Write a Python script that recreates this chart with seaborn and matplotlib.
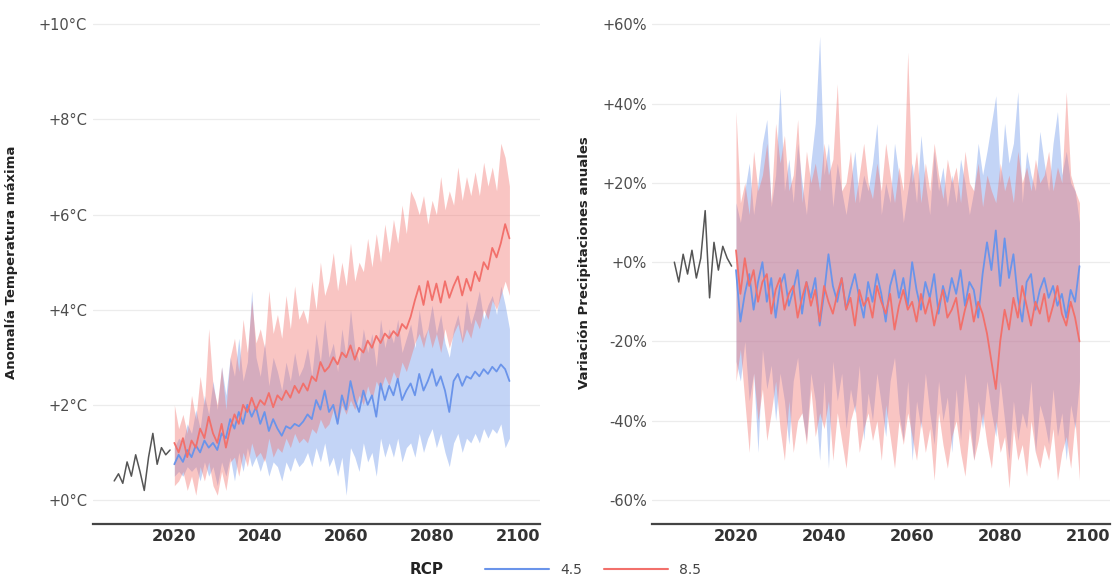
import numpy as np
import pandas as pd
import matplotlib
matplotlib.use("Agg")
import matplotlib.pyplot as plt
import seaborn as sns
from matplotlib.lines import Line2D

# historical observations 2006-2019
hist_years = list(range(2006, 2020))
hist_temp = [0.4, 0.55, 0.35, 0.8, 0.5, 0.95, 0.6, 0.2, 0.9, 1.4, 0.75, 1.1, 0.95, 1.05]
hist_prec = [0, -5, 2, -3, 3, -4, 1, 13, -9, 5, -2, 4, 1, -1]

# projections 2020-2098
years = list(range(2020, 2099))

temp45_mean = [0.75, 0.95, 0.8, 1.05, 0.9, 1.15, 1.0, 1.25, 1.1, 1.2,
               1.05, 1.4, 1.3, 1.7, 1.5, 1.85, 1.6, 2.0, 1.75, 1.95,
               1.6, 1.85, 1.45, 1.7, 1.5, 1.35, 1.55, 1.5, 1.6, 1.55,
               1.65, 1.8, 1.7, 2.1, 1.9, 2.3, 1.85, 2.0, 1.6, 2.2,
               1.9, 2.5, 2.1, 1.85, 2.3, 2.0, 2.2, 1.75, 2.45, 2.1,
               2.4, 2.2, 2.55, 2.1, 2.3, 2.45, 2.2, 2.65, 2.3, 2.5,
               2.75, 2.4, 2.6, 2.3, 1.85, 2.5, 2.65, 2.4, 2.6, 2.55,
               2.7, 2.6, 2.75, 2.65, 2.8, 2.7, 2.85, 2.75, 2.5]
temp45_lo = [0.5, 0.6, 0.5, 0.7, 0.6, 0.7, 0.4, 0.8, 0.5, 0.7,
             0.3, 0.8, 0.5, 0.9, 0.4, 1.0, 0.6, 1.1, 0.7, 0.9,
             0.6, 0.9, 0.5, 0.8, 0.7, 0.4, 0.8, 0.6, 0.9, 0.7,
             0.8, 1.0, 0.7, 1.1, 0.8, 1.2, 0.7, 0.9, 0.5, 0.9,
             0.1, 1.1, 0.9, 0.6, 1.2, 0.8, 1.0, 0.5, 1.3, 0.9,
             1.2, 0.9, 1.3, 0.8, 1.1, 1.2, 0.9, 1.4, 1.0, 1.3,
             1.5, 1.1, 1.4, 1.0, 0.7, 1.2, 1.4, 1.0, 1.3, 1.2,
             1.4, 1.2, 1.5, 1.3, 1.5, 1.4, 1.6, 1.1, 1.3]
temp45_hi = [1.1, 1.3, 1.2, 1.6, 1.4, 1.9, 1.5, 2.2, 1.8, 2.5,
             1.9, 2.8, 2.2, 3.0, 2.6, 3.4, 2.5, 2.9, 4.4, 3.0,
             2.6, 3.3, 2.4, 3.0, 2.7, 2.3, 2.9, 2.5, 3.1, 2.6,
             2.8, 3.2, 2.6, 3.5, 2.9, 3.8, 3.0, 3.3, 2.7, 3.6,
             3.0, 4.0, 3.2, 2.9, 3.6, 3.1, 3.5, 2.8, 3.8, 3.2,
             3.6, 3.3, 3.8, 3.1, 3.4, 3.7, 3.2, 4.0, 3.4, 3.6,
             4.1, 3.5, 3.9, 3.3, 3.0, 3.6, 3.9, 3.4, 4.2, 3.7,
             4.0, 4.4, 3.8, 4.1, 4.3, 3.9, 4.5, 4.1, 3.6]

temp85_mean = [1.2, 1.0, 1.3, 0.9, 1.25, 1.1, 1.5, 1.3, 1.75, 1.4,
               1.2, 1.6, 1.1, 1.5, 1.8, 1.6, 2.0, 1.85, 2.15, 1.9,
               2.1, 2.0, 2.25, 1.95, 2.2, 2.1, 2.3, 2.15, 2.4, 2.25,
               2.45, 2.3, 2.6, 2.5, 2.9, 2.7, 2.8, 3.0, 2.85, 3.1,
               3.0, 3.25, 2.95, 3.2, 3.1, 3.35, 3.2, 3.45, 3.3, 3.5,
               3.4, 3.55, 3.45, 3.7, 3.6, 3.85, 4.2, 4.5, 4.1, 4.6,
               4.2, 4.55, 4.15, 4.6, 4.25, 4.5, 4.7, 4.3, 4.65, 4.4,
               4.8, 4.6, 5.0, 4.85, 5.3, 5.1, 5.4, 5.8, 5.5]
temp85_lo = [0.3, 0.4, 0.6, 0.2, 0.5, 0.1, 0.7, 0.4, 0.8, 0.3,
             0.1, 0.6, 0.2, 0.8, 0.9, 0.5, 1.0, 0.7, 1.2, 0.9,
             1.0, 0.8, 1.3, 0.9, 1.1, 1.0, 1.3, 1.1, 1.4, 1.2,
             1.3, 1.2, 1.5, 1.4, 1.7, 1.5, 1.6, 1.9, 1.6, 2.0,
             1.8, 2.1, 1.9, 2.2, 2.0, 2.4, 2.1, 2.5, 2.3, 2.6,
             2.4, 2.7, 2.5, 2.9, 2.7, 3.0, 3.3, 3.5, 3.2, 3.6,
             3.2, 3.5, 3.1, 3.6, 3.2, 3.5, 3.7, 3.3, 3.6, 3.4,
             3.8, 3.6, 4.0, 3.8, 4.2, 4.0, 4.3, 4.6, 4.3]
temp85_hi = [2.0, 1.5, 1.8, 1.4, 2.2, 1.7, 2.6, 2.0, 3.6, 2.4,
             2.0, 2.8, 1.9, 3.0, 3.4, 2.7, 3.8, 3.1, 4.2, 3.3,
             3.6, 3.2, 4.4, 3.5, 3.9, 3.4, 4.3, 3.6, 4.5, 3.8,
             4.0, 3.7, 4.6, 4.0, 5.0, 4.3, 4.6, 5.2, 4.4, 5.0,
             4.5, 5.4, 4.6, 5.0, 4.8, 5.5, 4.9, 5.6, 5.0, 5.8,
             5.2, 5.9, 5.4, 6.2, 5.6, 6.5, 6.3, 6.0, 6.4, 5.8,
             6.3, 6.0, 6.8, 6.1, 6.5, 6.2, 7.0, 6.3, 6.8, 6.4,
             6.9, 6.4, 7.1, 6.6, 7.0, 6.5, 7.5, 7.2, 6.6]

prec45_mean = [-2, -15, -8, -3, -12, -5, 0, -10, -4, -14,
               -6, -3, -11, -7, -2, -13, -5, -9, -4, -16,
               -8, 2, -6, -10, -4, -12, -7, -3, -9, -14,
               -5, -10, -3, -8, -15, -6, -2, -9, -4, -11,
               0, -7, -12, -5, -9, -3, -13, -6, -10, -4,
               -8, -2, -11, -5, -7, -14, -3, 5, -2, 8,
               -6, 6, -4, 2, -9, -15, -5, -3, -12, -7,
               -4, -9, -6, -11, -8, -14, -7, -10, -1]
prec45_lo = [-25, -30, -20, -35, -28, -48, -22, -32, -26, -40,
             -28, -35, -46, -30, -24, -38, -45, -28, -35, -50,
             -30, -52, -25, -35, -28, -42, -32, -38, -26, -45,
             -33, -40, -28, -36, -44, -30, -24, -38, -45, -30,
             -50, -35, -42, -28, -38, -46, -30, -40, -34, -48,
             -32, -45, -28, -38, -50, -35, -42, -30, -38, -44,
             -30, -40, -50, -35, -45, -38, -42, -30, -48, -36,
             -40, -46, -32, -44, -38, -50, -36, -42, -30]
prec45_hi = [15, 10, 18, 25, 12, 20, 30, 36, 14, 22,
             44, 18, 26, 15, 30, 20, 12, 25, 35, 57,
             22, 30, 14, 25, 18, 12, 20, 28, 15, 22,
             18, 25, 35, 12, 20, 15, 30, 22, 10, 18,
             25, 15, 32, 20, 12, 28, 18, 24, 14, 22,
             15, 26, 20, 12, 18, 30, 22, 28, 35, 42,
             20, 35, 25, 30, 43, 15, 28, 22, 18, 33,
             25, 18, 30, 38, 22, 28, 20, 18, 10]

prec85_mean = [3, -8, 1, -6, -2, -10, -5, -3, -13, -7,
               -4, -12, -8, -6, -14, -9, -5, -11, -7, -15,
               -6, -10, -13, -8, -4, -12, -9, -16, -7, -11,
               -9, -14, -6, -10, -13, -8, -17, -11, -7, -12,
               -10, -15, -8, -13, -9, -16, -11, -7, -14, -12,
               -9, -17, -12, -8, -15, -10, -13, -18, -25, -32,
               -20, -12, -17, -9, -14, -6, -11, -16, -10, -13,
               -8, -15, -11, -6, -13, -16, -10, -14, -20]
prec85_lo = [-30, -22, -35, -48, -28, -40, -32, -45, -38, -30,
             -42, -50, -35, -48, -40, -38, -46, -32, -44, -38,
             -42, -35, -50, -38, -45, -52, -40, -36, -48, -42,
             -38, -45, -40, -50, -36, -44, -52, -40, -46, -38,
             -44, -50, -40, -48, -42, -55, -38, -46, -52, -44,
             -40, -48, -54, -42, -50, -45, -38, -46, -52, -40,
             -48, -44, -57, -42, -50, -46, -54, -40, -48, -52,
             -46, -50, -42, -55, -48, -44, -52, -40, -55]
prec85_hi = [38, 15, 20, 12, 28, 18, 22, 30, 15, 35,
             25, 32, 18, 22, 36, 15, 28, 20, 25, 18,
             30, 22, 26, 45, 18, 20, 28, 15, 22, 30,
             20, 16, 25, 18, 30, 22, 15, 24, 18, 53,
             20, 28, 15, 25, 18, 30, 22, 16, 26, 20,
             24, 15, 28, 20, 18, 25, 14, 22, 18, 15,
             25, 18, 22, 15, 28, 20, 24, 18, 26, 20,
             22, 28, 18, 24, 20, 43, 22, 18, 15]

rcp_labels = ["4.5", "8.5"]
colors = {"4.5": "#6A94EA", "8.5": "#F2706B"}

sns.set_theme(style="white")
plt.rcParams["font.family"] = ["DejaVu Sans"]

proj = pd.DataFrame({
    "year": years * 2,
    "RCP": ["4.5"] * len(years) + ["8.5"] * len(years),
    "temp": temp45_mean + temp85_mean,
    "temp_lo": temp45_lo + temp85_lo,
    "temp_hi": temp45_hi + temp85_hi,
    "prec": prec45_mean + prec85_mean,
    "prec_lo": prec45_lo + prec85_lo,
    "prec_hi": prec45_hi + prec85_hi,
})
hist = pd.DataFrame({"year": hist_years, "temp": hist_temp, "prec": hist_prec})

fig = plt.figure(figsize=(11.17, 5.8), dpi=100)
ax1 = fig.add_axes([0.083, 0.097, 0.40, 0.902])
ax2 = fig.add_axes([0.584, 0.097, 0.41, 0.902])


def draw_panel(ax, var, ylim, ticks, labels, ylabel, labelx):
    # shaded ranges first, then the mean lines on top
    for rcp in rcp_labels:
        sub = proj[proj["RCP"] == rcp]
        ax.fill_between(sub["year"], sub[var + "_lo"], sub[var + "_hi"],
                        color=colors[rcp], alpha=0.4, linewidth=0)
    sns.lineplot(data=proj, x="year", y=var, hue="RCP", palette=colors,
                 linewidth=1.3, legend=False, ax=ax)
    sns.lineplot(data=hist, x="year", y=var, color="#555555",
                 linewidth=1.1, ax=ax)
    ax.set_xlim(2001, 2105)
    ax.set_ylim(*ylim)
    ax.set_xticks([2020, 2040, 2060, 2080, 2100])
    ax.set_xticklabels(["2020", "2040", "2060", "2080", "2100"],
                       fontsize=11.5, fontweight="bold", color="#333333")
    ax.set_yticks(ticks)
    ax.set_yticklabels(labels, fontsize=10.5, color="#4d4d4d")
    ax.tick_params(length=0, pad=4)
    ax.grid(axis="y", color="#ececec", linewidth=0.9)
    ax.grid(axis="x", visible=False)
    for s in ["top", "right", "left"]:
        ax.spines[s].set_visible(False)
    ax.spines["bottom"].set_color("#444444")
    ax.spines["bottom"].set_linewidth(1.6)
    ax.set_xlabel("")
    ax.set_ylabel(ylabel, fontsize=9.5, fontweight="bold", color="#222222")
    ax.yaxis.set_label_coords(labelx, 0.5)


draw_panel(ax1, "temp", (-0.5, 10.5), [0, 2, 4, 6, 8, 10],
           ["+0°C", "+2°C", "+4°C", "+6°C", "+8°C", "+10°C"],
           "Anomalía Temperatura máxima", -0.168)
draw_panel(ax2, "prec", (-66, 66), [-60, -40, -20, 0, 20, 40, 60],
           ["-60%", "-40%", "-20%", "+0%", "+20%", "+40%", "+60%"],
           "Variación Precipitaciones anuales", -0.135)

handles = [Line2D([], [], color=colors[r], linewidth=1.5) for r in rcp_labels]
fig.legend(handles, rcp_labels, loc="center", bbox_to_anchor=(0.531, 0.018),
           ncol=2, frameon=False, handlelength=4.6, columnspacing=1.6,
           fontsize=10, labelcolor="#444444")
fig.text(0.382, 0.018, "RCP", ha="center", va="center", fontsize=11,
         fontweight="bold", color="#222222")

fig.savefig("out.png", dpi=100)
